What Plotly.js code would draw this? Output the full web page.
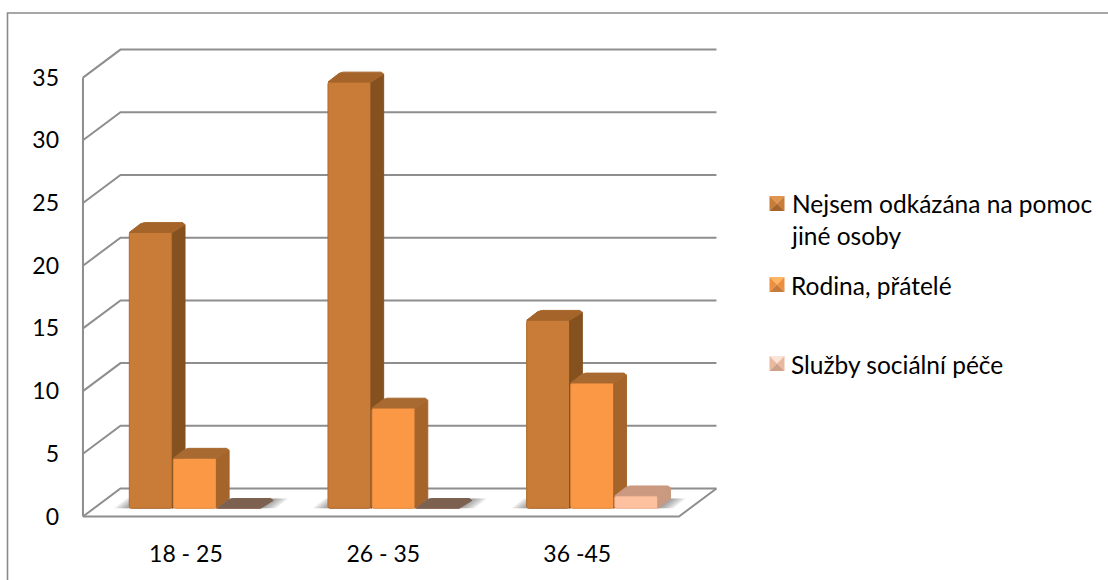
<!DOCTYPE html>
<html>
<head>
<meta charset="utf-8">
<script src="https://cdn.plot.ly/plotly-3.0.0.min.js"></script>
<style>html,body{margin:0;padding:0;background:#fff}#chart{width:1108px;height:580px}</style>
</head>
<body>
<div id="chart"></div>
<script>
// Age groups and the help each group relies on
const categories = ['18 - 25', '26 - 35', '36 -45'];
const seriesNames = ['Nejsem odkázána na pomoc<br>jiné osoby', 'Rodina, přátelé', 'Služby sociální péče'];
const independent = [22, 34, 15];
const family = [4, 8, 10];
const socialCare = [0, 0, 1];
const valueTicks = [0, 5, 10, 15, 20, 25, 30, 35];

// Plot box in pixels and the scale of the category / value axes
const W = 1108, H = 580;
const box = {l: 76, r: 724, t: 42, b: 528};
const pxPerCat = 198.67, pxPerVal = 12.54;
const originX = 182.3, originY = 516.5;
const xRange = [(box.l - originX) / pxPerCat, (box.r - originX) / pxPerCat];
const yRange = [(originY - box.b) / pxPerVal, (originY - box.t) / pxPerVal];

// Oblique projection offsets, in axis units
const wallDx = 37.5 / pxPerCat, wallDy = 28 / pxPerVal;
const barDx = 12.7 / pxPerCat, barDy = 9.8 / pxPerVal;
const chamferX = 2.5 / pxPerCat, chamferY = 2 / pxPerVal;
const barBase = 8.2 / pxPerVal;
const barWidth = 43 / pxPerCat, barStep = 44.1 / pxPerCat, firstOffset = -31.5 / pxPerCat;

const styles = [
  {front: '#C97B38', edge: '#B06A2E', side: '#84511F', top: '#A4642A', flat: '#7D6150'},
  {front: '#FB9846', edge: '#E58A3E', side: '#A4642A', top: '#A86A30', flat: '#A4642A'},
  {front: '#FDC1A0', edge: '#F0B294', side: '#C99A80', top: '#CB9880', flat: '#7D6150'}
];
const gridColor = '#8E8E8E';

const polyline = (xs, ys, color, width) => ({
  type: 'scatter', mode: 'lines', x: xs, y: ys, hoverinfo: 'skip', showlegend: false,
  line: {color, width: width || 2, simplify: false}
});
const polygon = (xs, ys, color, axisSuffix, edgeWidth) => ({
  type: 'scatter', mode: 'lines', x: xs.concat(xs[0]), y: ys.concat(ys[0]),
  fill: 'toself', fillcolor: color, hoverinfo: 'skip', showlegend: false,
  line: {color, width: edgeWidth === undefined ? 1 : edgeWidth, simplify: false},
  xaxis: 'x' + (axisSuffix || ''), yaxis: 'y' + (axisSuffix || '')
});

const data = [];

// Walls: every gridline runs up the side wall, then along the back
const frontL = -0.5, frontR = categories.length - 0.5;
valueTicks.forEach(v => {
  data.push(polyline([frontL, frontL + wallDx, frontR + wallDx], [v, v + wallDy, v + wallDy], gridColor));
});
data.push(polyline([frontL, frontL], [0, 35], gridColor));
data.push(polyline([frontL, frontR, frontR + wallDx], [0, 0, wallDy], gridColor));

// Soft contact shadow on the floor around each group of columns
const shadowSpread = [0.075, 0.06, 0.045, 0.03, 0.015];
categories.forEach((c, i) => {
  const left = i + firstOffset - barWidth / 2;
  const right = i + firstOffset + 2 * barStep + barWidth / 2 + barDx;
  shadowSpread.forEach(s => {
    data.push(polygon(
      [left - s, right + s - barDx, right + s, left - s + barDx],
      [barBase, barBase, barBase + barDy, barBase + barDy],
      'rgba(80,80,80,0.13)', '', 0
    ));
  });
});

// Columns: each series sits on its own overlay so nearer faces cover farther ones
[independent, family, socialCare].forEach((values, s) => {
  const suffix = String(s + 2), st = styles[s];
  const xs = categories.map((c, i) => i + firstOffset + s * barStep);
  data.push({
    type: 'bar', name: seriesNames[s].replace('<br>', ' '), x: xs, y: values, base: barBase,
    width: barWidth, xaxis: 'x' + suffix, yaxis: 'y' + suffix, showlegend: false,
    marker: {color: st.front, line: {color: st.edge, width: 1}, cornerradius: 2},
    hovertemplate: '%{y}<extra>' + seriesNames[s].replace('<br>', ' ') + '</extra>'
  });
  values.forEach((v, i) => {
    const xL = xs[i] - barWidth / 2, xR = xs[i] + barWidth / 2;
    const bottom = barBase, top = barBase + v;
    const backY = top + barDy;
    if (v > 0) {
      data.push(polygon([xR, xR + barDx, xR + barDx, xR],
        [bottom, bottom + barDy, backY - chamferY, top], st.side, suffix));
    }
    data.push(polygon(
      [xL, xR, xR + barDx, xR + barDx - chamferX, xL + barDx + chamferX, xL + barDx - chamferX * 0.6],
      [top, top, backY - chamferY, backY, backY, backY - chamferY * 0.6],
      v > 0 ? st.top : st.flat, suffix
    ));
  });
});

// Helpers for items placed by pixel position over the whole figure
const pw = box.r - box.l, ph = box.b - box.t;
const paperX = px => (px - box.l) / pw;
const paperY = py => (box.b - py) / ph;

const legendShades = [
  {up: '#E0954F', mid: '#C97B38', low: '#A4642A'},
  {up: '#FFB562', mid: '#EE8F40', low: '#C67C38'},
  {up: '#FBE3D6', mid: '#E8B9A0', low: '#CFA088'}
];
const legendRows = [203.5, 284.5, 363.5];
const legendSize = 15, legendLeft = 769.5;

const shapes = [];
const tri = (pts, color) => shapes.push({
  type: 'path', xref: 'paper', yref: 'paper', line: {width: 0}, fillcolor: color,
  path: 'M' + pts.map(p => paperX(p[0]) + ',' + paperY(p[1])).join('L') + 'Z'
});
legendRows.forEach((cy, k) => {
  const l = legendLeft, r = l + legendSize, t = cy - legendSize / 2, b = cy + legendSize / 2;
  const cx = l + legendSize / 2, c = legendShades[k];
  tri([[l, t], [r, t], [cx, cy]], c.up);
  tri([[l, t], [l, b], [cx, cy]], c.mid);
  tri([[r, t], [r, b], [cx, cy]], c.mid);
  tri([[l, b], [r, b], [cx, cy]], c.low);
});

// Chart frame, open towards the right and bottom edges of the page
shapes.push({
  type: 'path', xref: 'paper', yref: 'paper', line: {color: '#8A8A8A', width: 1.6},
  path: 'M' + paperX(7.5) + ',' + paperY(H + 5) + 'L' + paperX(7.5) + ',' + paperY(13) + 'L' + paperX(W + 5) + ',' + paperY(13)
});

const family_ = 'Lato, "Open Sans", sans-serif';
const font = {family: family_, size: 23, color: '#000'};
const legendFont = {family: family_, size: 24.5, color: '#000'};
const legendTextY = [219.5, 285, 365];
const annotations = seriesNames.map((t, k) => ({
  text: t, xref: 'paper', yref: 'paper', x: paperX(790), y: paperY(legendTextY[k]),
  xanchor: 'left', yanchor: 'middle', align: 'left', showarrow: false, font: legendFont,
  borderpad: 0
}));

const hiddenAxis = (base, range) => ({overlaying: base, range, visible: false, fixedrange: true});

const layout = {
  width: W, height: H,
  margin: {l: box.l, r: W - box.r, t: box.t, b: H - box.b, pad: 0},
  paper_bgcolor: '#fff', plot_bgcolor: 'rgba(0,0,0,0)',
  barmode: 'overlay', showlegend: false, font,
  xaxis: {
    range: xRange, tickmode: 'array', tickvals: [0.018, 1.012, 1.988], ticktext: categories,
    showgrid: false, zeroline: false, showline: false, ticks: '', ticklabelstandoff: 10, fixedrange: true
  },
  yaxis: {
    range: yRange, tickmode: 'array', tickvals: valueTicks, showgrid: false, zeroline: false,
    showline: false, ticks: '', ticklabelstandoff: 16, fixedrange: true
  },
  xaxis2: hiddenAxis('x', xRange), yaxis2: hiddenAxis('y', yRange),
  xaxis3: hiddenAxis('x', xRange), yaxis3: hiddenAxis('y', yRange),
  xaxis4: hiddenAxis('x', xRange), yaxis4: hiddenAxis('y', yRange),
  shapes, annotations
};

Plotly.newPlot('chart', data, layout, {displayModeBar: false, staticPlot: true});
</script>
</body>
</html>
